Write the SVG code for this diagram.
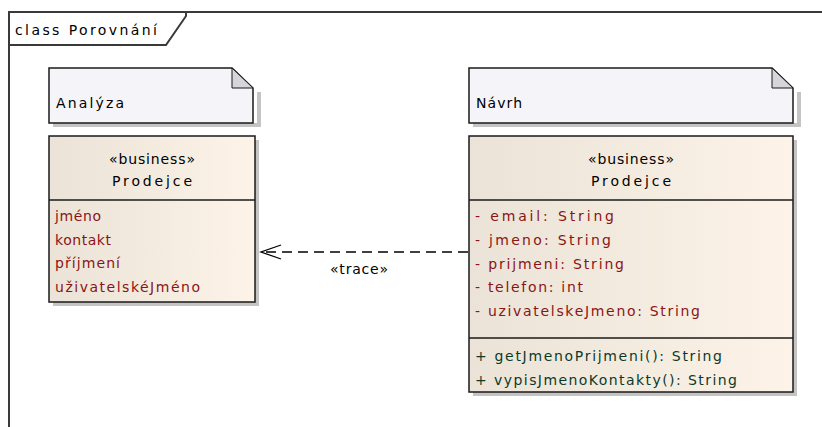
<svg xmlns="http://www.w3.org/2000/svg" width="822" height="427" viewBox="0 0 822 427">
<style>
text{font-family:"DejaVu Sans","Liberation Sans",sans-serif;font-size:14px;fill:#000}
.attr{fill:#8a1515}
.op{fill:#0b3a2a}
.box{stroke:#1a1a1a;stroke-width:1.5}
.note{fill:#f5f5f9;stroke:#1a1a1a;stroke-width:1.5}
.shadow{fill:#c4c4c4}
.sep{stroke:#1a1a1a;stroke-width:1.5}
.frame{fill:none;stroke:#3a3a3a;stroke-width:2}
</style>
<defs>
<linearGradient id="cg" x1="0" y1="0" x2="1" y2="0">
<stop offset="0" stop-color="#ebe3d7"/>
<stop offset="1" stop-color="#fdf3e8"/>
</linearGradient>
<marker id="open" markerWidth="24" markerHeight="20" refX="21" refY="10" orient="auto" markerUnits="userSpaceOnUse">
<path d="M1,3 L21,10 L1,17" fill="none" stroke="#000" stroke-width="1.3"/>
</marker>
</defs>
<rect width="822" height="427" fill="#fff"/>
<g id="frame">
<path class="frame" d="M9,427 L9,12 L822,12"/>
<path class="frame" d="M9,45 L166,45 L186,16 L186,12" stroke-width="1.5"/>
<text x="15" y="35" textLength="142" lengthAdjust="spacing">class Porovnání</text>
</g>
<g id="note-analyza">
<path class="shadow" d="M53,123 L257,123 L257,92 L261,92 L261,127 L53,127 Z"/>
<path class="note" d="M49,68 L232,68 L253,88 L253,123 L49,123 Z"/>
<path d="M232,68 L232,88 L253,88 Z" fill="#d6d6da" stroke="#1a1a1a" stroke-width="1"/>
<text x="56" y="108" textLength="68" lengthAdjust="spacing">Analýza</text>
</g>
<g id="note-navrh">
<path class="shadow" d="M473,123 L797,123 L797,92 L801,92 L801,127 L473,127 Z"/>
<path class="note" d="M469,68 L772,68 L793,88 L793,123 L469,123 Z"/>
<path d="M772,68 L772,88 L793,88 Z" fill="#d6d6da" stroke="#1a1a1a" stroke-width="1"/>
<text x="476" y="108" textLength="46" lengthAdjust="spacing">Návrh</text>
</g>
<g id="class-analyza">
<rect class="shadow" x="53" y="140" width="206" height="166"/>
<rect class="box" x="49" y="136" width="206" height="166" fill="url(#cg)"/>
<line class="sep" x1="49" y1="200" x2="255" y2="200"/>
<text x="152" y="164" text-anchor="middle" textLength="86" lengthAdjust="spacing">«business»</text>
<text x="152" y="186" text-anchor="middle" textLength="80" lengthAdjust="spacing">Prodejce</text>
<text class="attr" x="55" y="221" textLength="46" lengthAdjust="spacing">jméno</text>
<text class="attr" x="55" y="245" textLength="56" lengthAdjust="spacing">kontakt</text>
<text class="attr" x="55" y="268" textLength="65" lengthAdjust="spacing">příjmení</text>
<text class="attr" x="55" y="292" textLength="145" lengthAdjust="spacing">uživatelskéJméno</text>
</g>
<g id="class-navrh">
<rect class="shadow" x="473" y="140" width="324" height="256"/>
<rect class="box" x="469" y="136" width="324" height="256" fill="url(#cg)"/>
<line class="sep" x1="469" y1="200" x2="793" y2="200"/>
<line class="sep" x1="469" y1="338" x2="793" y2="338"/>
<text x="631" y="164" text-anchor="middle" textLength="86" lengthAdjust="spacing">«business»</text>
<text x="631" y="186" text-anchor="middle" textLength="80" lengthAdjust="spacing">Prodejce</text>
<text class="attr" x="475" y="221" textLength="139" lengthAdjust="spacing">- email: String</text>
<text class="attr" x="475" y="245" textLength="136" lengthAdjust="spacing">- jmeno: String</text>
<text class="attr" x="475" y="269" textLength="149" lengthAdjust="spacing">- prijmeni: String</text>
<text class="attr" x="475" y="292" textLength="108" lengthAdjust="spacing">- telefon: int</text>
<text class="attr" x="475" y="316" textLength="225" lengthAdjust="spacing">- uzivatelskeJmeno: String</text>
<text class="op" x="475" y="361" textLength="247" lengthAdjust="spacing">+ getJmenoPrijmeni(): String</text>
<text class="op" x="475" y="385" textLength="262" lengthAdjust="spacing">+ vypisJmenoKontakty(): String</text>
</g>
<g id="connectors">
<line x1="468" y1="252" x2="261" y2="252" stroke="#000" stroke-width="1.5" stroke-dasharray="10,6" marker-end="url(#open)"/>
<text x="359" y="274" text-anchor="middle" font-size="11" textLength="58" lengthAdjust="spacing">«trace»</text>
</g>
</svg>
